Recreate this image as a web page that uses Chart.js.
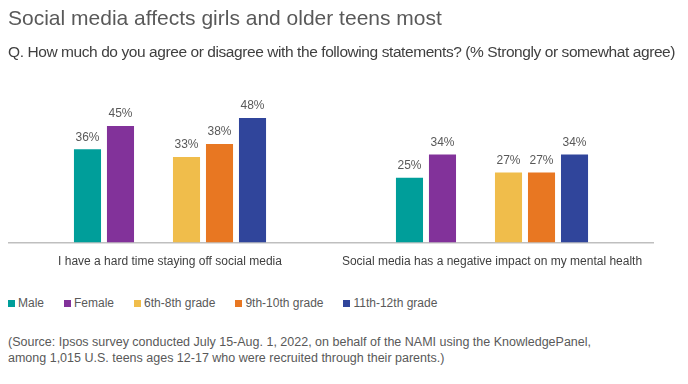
<!DOCTYPE html>
<html>
<head>
<meta charset="utf-8">
<script src="https://cdn.jsdelivr.net/npm/chart.js@4"></script>
<style>
  body { margin: 0; background: #fff; font-family: "Liberation Sans", Arial, sans-serif; }
  #wrap { position: relative; width: 688px; height: 384px; }
  #teensChart { position: absolute; left: 0; top: 0; }
  #title { position: absolute; left: 8px; top: 5px; font-size: 21px; line-height: 25px; color: #595959; white-space: nowrap; }
  #subtitle { position: absolute; left: 8px; top: 43px; font-size: 15.5px; line-height: 18px; letter-spacing: -0.42px; color: #404040; white-space: nowrap; }
  #legend { position: absolute; left: 8px; top: 296px; display: flex; font-size: 12px; color: #595959; }
  #legend span.item { display: flex; align-items: center; margin-right: 20px; }
  #legend span.box { display: inline-block; width: 7px; height: 7px; margin-right: 3px; }
  #note { position: absolute; left: 8px; top: 334px; font-size: 12.5px; line-height: 16px; color: #595959; }
</style>
</head>
<body>
<div id="wrap">
  <canvas id="teensChart" width="688" height="273"></canvas>
  <div id="title">Social media affects girls and older teens most</div>
  <div id="subtitle">Q. How much do you agree or disagree with the following statements? (% Strongly or somewhat agree)</div>
  <div id="legend"></div>
  <div id="note">(Source: Ipsos survey conducted July 15-Aug. 1, 2022, on behalf of the NAMI using the KnowledgePanel,<br>among 1,015 U.S. teens ages 12-17 who were recruited through their parents.)</div>
</div>
<script>
var categories = ['I have a hard time staying off social media', 'Social media has a negative impact on my mental health'];
var male = [36, 25];
var female = [45, 34];
var grade6to8 = [33, 27];
var grade9to10 = [38, 27];
var grade11to12 = [48, 34];

// draws the "%" labels on top of each bar
var barLabels = {
  id: 'barLabels',
  afterDatasetsDraw: function (chart) {
    var ctx = chart.ctx;
    ctx.save();
    ctx.font = '12px "Liberation Sans", Arial, sans-serif';
    ctx.fillStyle = '#595959';
    ctx.textAlign = 'center';
    ctx.textBaseline = 'bottom';
    chart.data.datasets.forEach(function (ds, i) {
      var meta = chart.getDatasetMeta(i);
      meta.data.forEach(function (bar, j) {
        if (ds.data[j] == null) return;
        ctx.fillText(ds.data[j] + '%', bar.x, bar.y - 6);
      });
    });
    ctx.restore();
  }
};

var ctx = document.getElementById('teensChart');
var teensChart = new Chart(ctx, {
  type: 'bar',
  data: {
    labels: categories,
    datasets: [{
      label: 'Male',
      data: male,
      backgroundColor: '#009E9A'
    }, {
      label: 'Female',
      data: female,
      backgroundColor: '#82329A'
    }, {
      label: '',
      data: [null, null],
      backgroundColor: 'rgba(0,0,0,0)'
    }, {
      label: '6th-8th grade',
      data: grade6to8,
      backgroundColor: '#F0BD4B'
    }, {
      label: '9th-10th grade',
      data: grade9to10,
      backgroundColor: '#E87722'
    }, {
      label: '11th-12th grade',
      data: grade11to12,
      backgroundColor: '#30459B'
    }]
  },
  plugins: [barLabels],
  options: {
    responsive: false,
    animation: false,
    datasets: {
      bar: { categoryPercentage: 0.615, barPercentage: 0.82 }
    },
    layout: { padding: { left: 9, right: 35, top: 87, bottom: 0 } },
    scales: {
      x: {
        grid: { display: false },
        border: { color: '#BFBFBF', width: 1.5 },
        ticks: { color: '#404040', font: { size: 12, family: '"Liberation Sans", Arial' }, padding: 4 }
      },
      y: {
        display: false,
        min: 0,
        max: 60
      }
    },
    plugins: {
      title: { display: false },
      legend: { display: false },
      tooltip: { enabled: false }
    }
  }
});

// html legend built from the chart's datasets
var legendEl = document.getElementById('legend');
teensChart.data.datasets.forEach(function (ds) {
  if (!ds.label) return;
  var item = document.createElement('span');
  item.className = 'item';
  var box = document.createElement('span');
  box.className = 'box';
  box.style.background = ds.backgroundColor;
  item.appendChild(box);
  item.appendChild(document.createTextNode(ds.label));
  legendEl.appendChild(item);
});
</script>
</body>
</html>
